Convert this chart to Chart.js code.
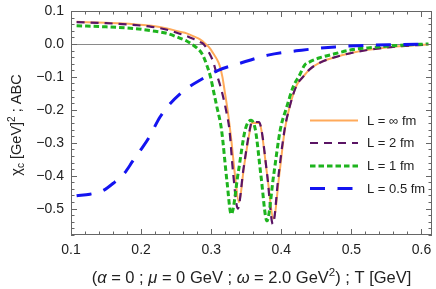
<!DOCTYPE html>
<html>
<head>
<meta charset="utf-8">
<script src="https://cdn.jsdelivr.net/npm/chart.js@4.4.1/dist/chart.umd.min.js"></script>
<style>
html, body { margin: 0; padding: 0; background: #fff; }
</style>
</head>
<body>
<canvas id="chi_chart" width="436" height="289"></canvas>
<script>
// values: T [GeV] and chi_c for each box size L
const t_inf = [0.108, 0.15, 0.189, 0.215, 0.237, 0.255, 0.265, 0.276, 0.284, 0.292, 0.298, 0.303, 0.308, 0.312, 0.316, 0.319, 0.324, 0.3286, 0.334, 0.3394, 0.347, 0.3555, 0.358, 0.3685, 0.3715, 0.380, 0.389, 0.397, 0.405, 0.412, 0.422, 0.431, 0.44, 0.455, 0.477, 0.503, 0.524, 0.55, 0.571, 0.59, 0.61];
const chi_inf = [0.067, 0.064, 0.060, 0.055, 0.047, 0.037, 0.032, 0.022, 0.014, 0.0, -0.013, -0.029, -0.046, -0.065, -0.1, -0.14, -0.21, -0.29, -0.40, -0.48, -0.37, -0.26, -0.24, -0.24, -0.26, -0.40, -0.53, -0.40, -0.26, -0.19, -0.125, -0.1, -0.078, -0.057, -0.04, -0.026, -0.018, -0.011, -0.007, -0.004, -0.002];

const t_2 = [0.108, 0.15, 0.189, 0.215, 0.237, 0.255, 0.265, 0.276, 0.284, 0.289, 0.2976, 0.303, 0.3076, 0.312, 0.317, 0.322, 0.326, 0.331, 0.338, 0.346, 0.355, 0.358, 0.368, 0.3717, 0.380, 0.388, 0.396, 0.4047, 0.412, 0.422, 0.431, 0.44, 0.455, 0.477, 0.503, 0.524, 0.55, 0.571, 0.59, 0.61];
const chi_2 = [0.066, 0.063, 0.058, 0.052, 0.043, 0.031, 0.024, 0.014, 0.006, 0.0, -0.029, -0.055, -0.09, -0.12, -0.16, -0.21, -0.26, -0.385, -0.50, -0.38, -0.26, -0.237, -0.237, -0.26, -0.40, -0.547, -0.40, -0.26, -0.19, -0.125, -0.1, -0.078, -0.057, -0.04, -0.026, -0.018, -0.011, -0.007, -0.004, -0.002];

const t_1 = [0.108, 0.15, 0.189, 0.215, 0.237, 0.256, 0.265, 0.272, 0.2795, 0.2867, 0.293, 0.299, 0.304, 0.308, 0.3147, 0.3224, 0.3286, 0.3386, 0.3486, 0.357, 0.363, 0.371, 0.3796, 0.389, 0.3986, 0.408, 0.417, 0.426, 0.433, 0.44, 0.455, 0.476, 0.502, 0.523, 0.55, 0.57, 0.59, 0.61];
const chi_1 = [0.055, 0.052, 0.047, 0.040, 0.032, 0.017, 0.009, 0.0, -0.012, -0.029, -0.06, -0.10, -0.15, -0.19, -0.26, -0.415, -0.517, -0.39, -0.26, -0.232, -0.26, -0.40, -0.537, -0.40, -0.26, -0.19, -0.13, -0.095, -0.065, -0.055, -0.042, -0.03, -0.017, -0.012, -0.007, -0.004, -0.002, 0.0];

const t_05 = [0.108, 0.127, 0.145, 0.162, 0.176, 0.188, 0.2, 0.211, 0.227, 0.24, 0.256, 0.27, 0.284, 0.31, 0.339, 0.381, 0.429, 0.477, 0.524, 0.571, 0.61];
const chi_05 = [-0.461, -0.456, -0.446, -0.42, -0.393, -0.356, -0.32, -0.285, -0.222, -0.185, -0.151, -0.128, -0.11, -0.08, -0.06, -0.034, -0.019, -0.009, -0.004, -0.002, 0.0];

const legend_labels = ['L = ∞ fm', 'L = 2 fm', 'L = 1 fm', 'L = 0.5 fm'];
const x_ticks = [0.1, 0.2, 0.3, 0.4, 0.5, 0.6];
const y_ticks = [0.1, 0.0, -0.1, -0.2, -0.3, -0.4, -0.5];

const FONT = '"Liberation Sans", Arial, sans-serif';

function toPoints(xs, ys){
    const pts = [];
    for(let i = 0; i < Math.min(xs.length, ys.length); i++){
        pts.push({x: xs[i], y: ys[i]});
    }
    return pts;
}

function tickLabel(v){
    if(Math.abs(v) < 1e-9) return '0.0';
    return (v < 0 ? '\u2212' : '') + Math.abs(v).toFixed(1);
}

// mixed text with italic / superscript / subscript parts, centred on 0
function drawRich(ctx, parts, size){
    const fontFor = p => (p.s === 'i' ? 'italic ' : '') + ((p.s === 'sup' || p.s === 'sub') ? size * 0.7 : size) + 'px ' + FONT;
    let total = 0;
    parts.forEach(p => { ctx.font = fontFor(p); total += ctx.measureText(p.t).width; });
    let x = -total / 2;
    ctx.textBaseline = 'alphabetic';
    ctx.textAlign = 'left';
    parts.forEach(p => {
        ctx.font = fontFor(p);
        let dy = 0;
        if(p.s === 'sup') dy = -size * 0.4;
        if(p.s === 'sub') dy = size * 0.22;
        ctx.fillText(p.t, x, dy);
        x += ctx.measureText(p.t).width;
    });
}

function minorValues(scale, step){
    const out = [];
    const k0 = Math.ceil(scale.min / step - 1e-6);
    const k1 = Math.floor(scale.max / step + 1e-6);
    for(let k = k0; k <= k1; k++){
        const v = k * step;
        if(Math.abs(v / 0.1 - Math.round(v / 0.1)) > 1e-6) out.push(v);
    }
    return out;
}

const frame_plugin = {
    id: 'frame_plugin',
    beforeDatasetsDraw(chart){
        const {ctx, chartArea: a} = chart;
        const y0 = Math.round(chart.scales.y.getPixelForValue(0)) + 0.5;
        ctx.save();
        ctx.strokeStyle = '#8a8a8a';
        ctx.lineWidth = 1;
        ctx.beginPath();
        ctx.moveTo(a.left, y0);
        ctx.lineTo(a.right, y0);
        ctx.stroke();
        ctx.restore();
    },
    afterDatasetsDraw(chart){
        const {ctx, chartArea: a} = chart;
        const xs = chart.scales.x, ys = chart.scales.y;
        ctx.save();
        ctx.strokeStyle = '#666';
        ctx.lineWidth = 1;
        ctx.strokeRect(a.left + 0.5, a.top + 0.5, a.width - 1, a.height - 1);
        ctx.beginPath();
        const xTick = (v, len) => {
            const px = Math.round(xs.getPixelForValue(v)) + 0.5;
            ctx.moveTo(px, a.bottom); ctx.lineTo(px, a.bottom - len);
            ctx.moveTo(px, a.top); ctx.lineTo(px, a.top + len);
        };
        const yTick = (v, len) => {
            const py = Math.round(ys.getPixelForValue(v)) + 0.5;
            ctx.moveTo(a.left, py); ctx.lineTo(a.left + len, py);
            ctx.moveTo(a.right, py); ctx.lineTo(a.right - len, py);
        };
        x_ticks.forEach(v => xTick(v, 6));
        minorValues(xs, 0.02).forEach(v => xTick(v, 3.5));
        y_ticks.forEach(v => yTick(v, 6));
        minorValues(ys, 0.02).forEach(v => yTick(v, 3.5));
        ctx.stroke();
        ctx.restore();
    },
    afterDraw(chart){
        const ctx = chart.ctx;
        const a = chart.chartArea;
        // legend inside the plot
        ctx.save();
        const rows = [120.5, 143, 166, 188.5];
        chart.data.datasets.forEach((ds, i) => {
            ctx.strokeStyle = ds.borderColor;
            ctx.lineWidth = ds.borderWidth;
            ctx.setLineDash(ds.borderDash || []);
            ctx.beginPath();
            ctx.moveTo(310, rows[i]);
            ctx.lineTo(358, rows[i]);
            ctx.stroke();
            ctx.setLineDash([]);
            ctx.fillStyle = '#222';
            ctx.font = '13px ' + FONT;
            ctx.textBaseline = 'middle';
            ctx.textAlign = 'left';
            ctx.fillText(ds.label, 367, rows[i] + 0.5);
        });
        ctx.restore();

        // axis titles
        ctx.save();
        ctx.fillStyle = '#222';
        ctx.translate((a.left + a.right) / 2, 282.5);
        drawRich(ctx, [
            {t: '('}, {t: '\u03b1', s: 'i'}, {t: ' = 0 ; '}, {t: '\u03bc', s: 'i'},
            {t: ' = 0 GeV ; '}, {t: '\u03c9', s: 'i'}, {t: ' = 2.0 GeV'}, {t: '2', s: 'sup'},
            {t: ') ; T [GeV]'}
        ], 16.5);
        ctx.restore();

        ctx.save();
        ctx.fillStyle = '#222';
        ctx.translate(21, 125);
        ctx.rotate(-Math.PI / 2);
        drawRich(ctx, [
            {t: '\u03c7'}, {t: 'c', s: 'sub'}, {t: ' [GeV]'}, {t: '2', s: 'sup'}, {t: ' ; ABC'}
        ], 14.5);
        ctx.restore();
    }
};

function initChiChart(){
    const ctx = document.getElementById('chi_chart').getContext('2d');
    new Chart(ctx, {
        type: 'line',
        data: {
            datasets: [{
                label: legend_labels[0],
                data: toPoints(t_inf, chi_inf),
                borderColor: 'rgb(255,170,90)',
                borderWidth: 2,
                order: 4
            }, {
                label: legend_labels[1],
                data: toPoints(t_2, chi_2),
                borderColor: 'rgb(90,20,100)',
                borderWidth: 2.2,
                borderDash: [8, 6],
                order: 3
            }, {
                label: legend_labels[2],
                data: toPoints(t_1, chi_1),
                borderColor: 'rgb(30,180,30)',
                borderWidth: 3,
                borderDash: [5.5, 3],
                order: 2
            }, {
                label: legend_labels[3],
                data: toPoints(t_05, chi_05),
                borderColor: 'rgb(20,20,240)',
                borderWidth: 3,
                borderDash: [15, 12.5],
                order: 1
            }]
        },
        options: {
            responsive: false,
            animation: false,
            devicePixelRatio: 1,
            cubicInterpolationMode: 'monotone',
            elements: { point: { radius: 0 }, line: { fill: false } },
            layout: { padding: { top: 11, right: 4, left: 0, bottom: 0 } },
            plugins: { legend: { display: false }, tooltip: { enabled: false } },
            scales: {
                x: {
                    type: 'linear',
                    min: 0.1,
                    max: 0.615,
                    grid: { display: false, drawTicks: false },
                    border: { display: false },
                    afterBuildTicks: s => { s.ticks = x_ticks.map(v => ({value: v})); },
                    afterFit: s => { s.height = 54; s.paddingLeft = 0; s.paddingRight = 0; },
                    ticks: {
                        callback: v => tickLabel(v),
                        color: '#222',
                        padding: 7,
                        maxRotation: 0,
                        font: { family: FONT, size: 14 }
                    }
                },
                y: {
                    type: 'linear',
                    min: -0.58,
                    max: 0.1,
                    grid: { display: false, drawTicks: false },
                    border: { display: false },
                    afterBuildTicks: s => { s.ticks = y_ticks.map(v => ({value: v})); },
                    afterFit: s => { s.width = 71; s.paddingTop = 0; s.paddingBottom = 0; },
                    ticks: {
                        callback: v => tickLabel(v),
                        color: '#222',
                        padding: 7,
                        font: { family: FONT, size: 14 }
                    }
                }
            }
        },
        plugins: [frame_plugin]
    });
}

initChiChart();
</script>
</body>
</html>
